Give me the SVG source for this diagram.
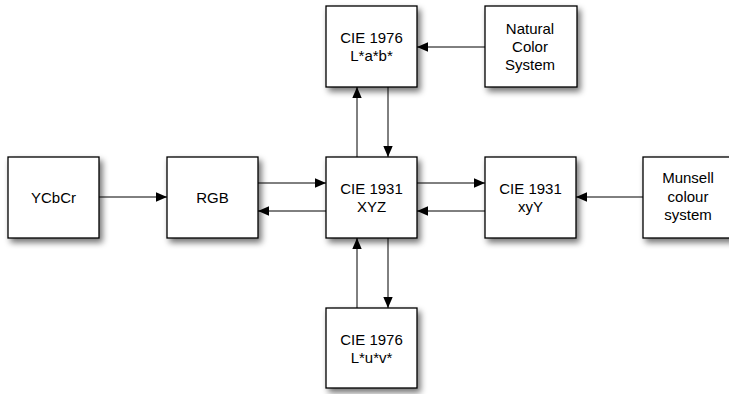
<svg xmlns="http://www.w3.org/2000/svg" width="729" height="394" viewBox="0 0 729 394">
<defs>
<filter id="sh" x="-20%" y="-20%" width="150%" height="150%">
<feGaussianBlur in="SourceAlpha" stdDeviation="3"/>
<feOffset dx="3" dy="4" result="b"/>
<feComponentTransfer><feFuncA type="linear" slope="0.55"/></feComponentTransfer>
<feMerge><feMergeNode/><feMergeNode in="SourceGraphic"/></feMerge>
</filter>
<marker id="ah" viewBox="0 0 11 10" refX="11" refY="5" markerWidth="11" markerHeight="10" markerUnits="userSpaceOnUse" orient="auto">
<path d="M0,0.3 L11,5 L0,9.7 z" fill="#000"/>
</marker>
</defs>
<style>
.box{fill:#fff;stroke:#000;stroke-width:1.3;filter:url(#sh)}
.t{font-family:"Liberation Sans",Arial,sans-serif;font-size:15px;fill:#000;text-anchor:middle}
.c{stroke:#000;stroke-width:1;fill:none;marker-end:url(#ah)}
</style>
<rect width="729" height="394" fill="#fff"/>
<g id="lab"><rect class="box" x="326" y="6" width="91" height="81"/><text class="t" x="371.5" y="42.5">CIE 1976</text><text class="t" x="371.5" y="61">L*a*b*</text></g>
<g id="ncs"><rect class="box" x="485" y="6" width="92" height="81"/><text class="t" x="530" y="33.5">Natural</text><text class="t" x="530" y="51.5">Color</text><text class="t" x="530" y="69.5">System</text></g>
<g id="ycbcr"><rect class="box" x="8" y="157" width="91" height="81"/><text class="t" x="53.5" y="203">YCbCr</text></g>
<g id="rgb"><rect class="box" x="167" y="157" width="91" height="81"/><text class="t" x="212.5" y="203">RGB</text></g>
<g id="xyz"><rect class="box" x="326" y="157" width="91" height="81"/><text class="t" x="371.5" y="193.5">CIE 1931</text><text class="t" x="371.5" y="212">XYZ</text></g>
<g id="xyy"><rect class="box" x="485" y="157" width="91" height="81"/><text class="t" x="530.5" y="193.5">CIE 1931</text><text class="t" x="530.5" y="212">xyY</text></g>
<g id="munsell"><rect class="box" x="643" y="157" width="91" height="81"/><text class="t" x="688" y="183">Munsell</text><text class="t" x="688" y="201.5">colour</text><text class="t" x="688" y="220">system</text></g>
<g id="luv"><rect class="box" x="326" y="308" width="91" height="80"/><text class="t" x="371.5" y="344.5">CIE 1976</text><text class="t" x="371.5" y="363">L*u*v*</text></g>
<g id="connectors">
<line class="c" x1="485" y1="47" x2="417" y2="47"/>
<line class="c" x1="357" y1="157" x2="357" y2="87"/>
<line class="c" x1="388" y1="87" x2="388" y2="157"/>
<line class="c" x1="99" y1="197" x2="167" y2="197"/>
<line class="c" x1="258" y1="183" x2="326" y2="183"/>
<line class="c" x1="326" y1="211" x2="258" y2="211"/>
<line class="c" x1="417" y1="183" x2="485" y2="183"/>
<line class="c" x1="485" y1="211" x2="417" y2="211"/>
<line class="c" x1="643" y1="197" x2="576" y2="197"/>
<line class="c" x1="357" y1="308" x2="357" y2="238"/>
<line class="c" x1="388" y1="238" x2="388" y2="308"/>
</g>
</svg>
